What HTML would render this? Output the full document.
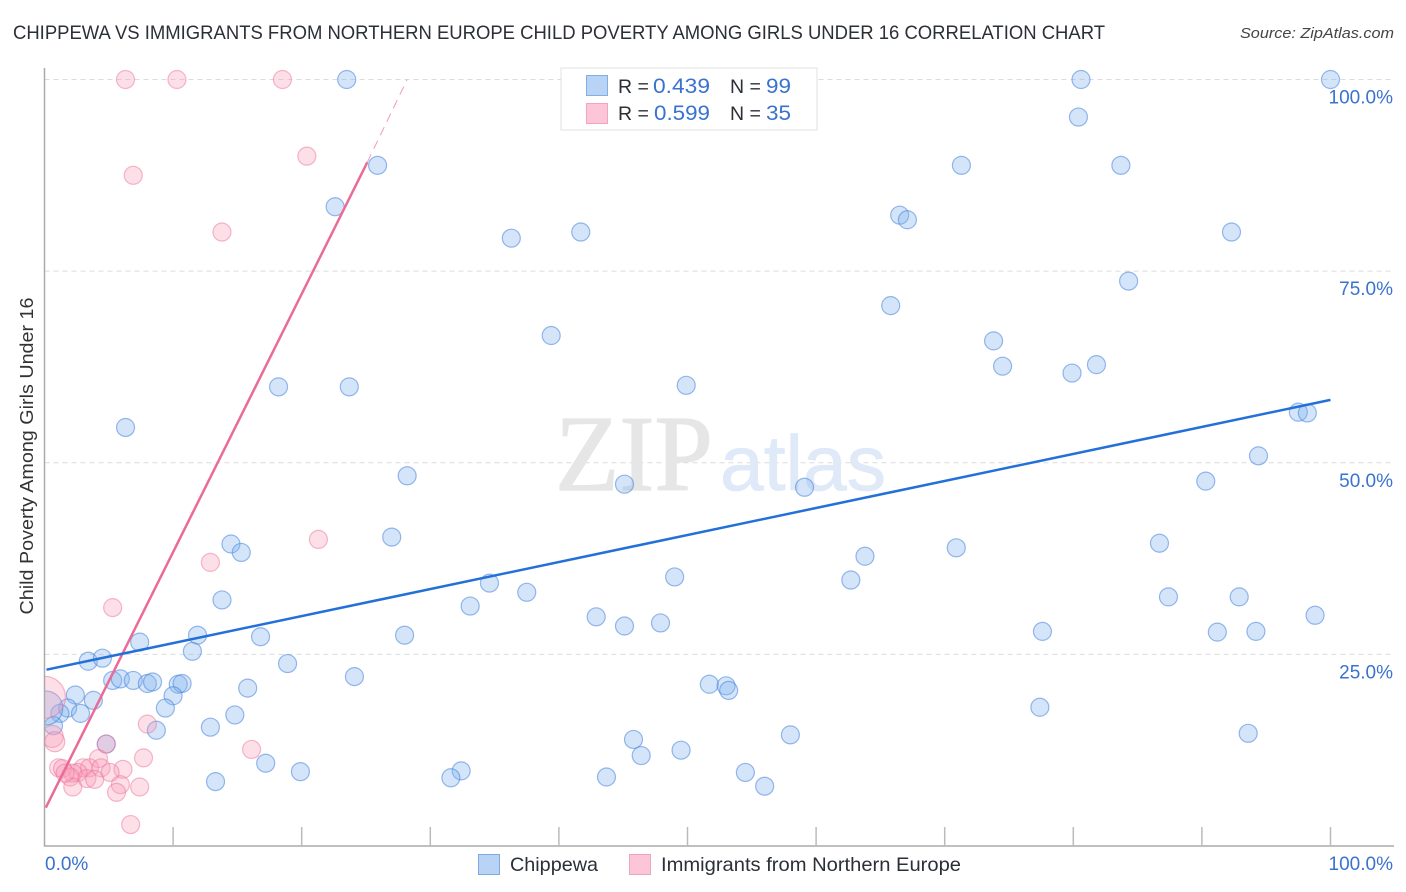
<!DOCTYPE html>
<html lang="en">
<head>
<meta charset="utf-8">
<title>Chippewa vs Immigrants from Northern Europe Child Poverty Correlation Chart</title>
<style>
html,body{margin:0;padding:0;background:#fff;width:1406px;height:892px;overflow:hidden}
svg{display:block;font-family:"Liberation Sans",sans-serif}
</style>
</head>
<body>
<svg id="chart" width="1406" height="892" viewBox="0 0 1406 892" xmlns="http://www.w3.org/2000/svg">
  <defs><clipPath id="plot-clip"><rect x="44.5" y="60" width="1350" height="786"/></clipPath></defs>
  <text x="13" y="39" font-size="19.5" fill="#2b2f36" textLength="1092" lengthAdjust="spacingAndGlyphs">CHIPPEWA VS IMMIGRANTS FROM NORTHERN EUROPE CHILD POVERTY AMONG GIRLS UNDER 16 CORRELATION CHART</text>
  <text x="1394" y="38" font-size="15" font-style="italic" fill="#444" text-anchor="end" textLength="154" lengthAdjust="spacingAndGlyphs">Source: ZipAtlas.com</text>

  <g id="grid-layer"></g>

  <g>
    <text x="555" y="490" font-family="'Liberation Serif',serif" font-size="108" fill="#e6e6e6" stroke="#e6e6e6" stroke-width="1.2" textLength="158" lengthAdjust="spacingAndGlyphs">ZIP</text>
    <text x="720" y="490" font-size="78" fill="#dfe9f8" stroke="#dfe9f8" stroke-width="0.8" textLength="166" lengthAdjust="spacingAndGlyphs">atlas</text>
  </g>

  <g id="points-layer" clip-path="url(#plot-clip)"></g>
  <g id="trend-layer"></g>
  <g id="axis-layer"></g>

  <text transform="translate(33,456) rotate(-90)" font-size="18" fill="#333" text-anchor="middle" textLength="317" lengthAdjust="spacingAndGlyphs">Child Poverty Among Girls Under 16</text>

  <g>
    <rect x="561" y="68" width="256" height="62" fill="#fff" stroke="#e2e2e2" stroke-width="1"/>
    <rect x="586.5" y="75.5" width="21" height="20" fill="#b8d3f6" stroke="#85aee0"/>
    <rect x="586.5" y="103.5" width="21" height="20" fill="#fcc6d8" stroke="#f2a5bf"/>
    <text x="618" y="93" font-size="19.5" fill="#2b2f36">R =</text>
    <text x="653" y="93" font-size="21" fill="#3a72cf" textLength="57" lengthAdjust="spacingAndGlyphs">0.439</text>
    <text x="730" y="93" font-size="19.5" fill="#2b2f36">N =</text>
    <text x="766" y="93" font-size="21" fill="#3a72cf" textLength="25" lengthAdjust="spacingAndGlyphs">99</text>
    <text x="618" y="120" font-size="19.5" fill="#2b2f36">R =</text>
    <text x="654" y="120" font-size="21" fill="#3a72cf" textLength="56" lengthAdjust="spacingAndGlyphs">0.599</text>
    <text x="730" y="120" font-size="19.5" fill="#2b2f36">N =</text>
    <text x="766" y="120" font-size="21" fill="#3a72cf" textLength="25" lengthAdjust="spacingAndGlyphs">35</text>
  </g>

  <g>
    <rect x="478.5" y="854.5" width="21" height="20" fill="#b8d3f6" stroke="#7faadf"/>
    <text x="510" y="871" font-size="19.5" fill="#2b2f36" textLength="88" lengthAdjust="spacingAndGlyphs">Chippewa</text>
    <rect x="629.5" y="854.5" width="21" height="20" fill="#fcc6d8" stroke="#f0a3bd"/>
    <text x="661" y="871" font-size="19.5" fill="#2b2f36" textLength="300" lengthAdjust="spacingAndGlyphs">Immigrants from Northern Europe</text>
  </g>
</svg>
<script>
// Data values are percentages.
const xTicks = [10, 20, 30, 40, 50, 60, 70, 80, 90, 100];
const yTicks = [25, 50, 75, 100];
const yTickLabels = ["25.0%", "50.0%", "75.0%", "100.0%"];
const xEndLabels = ["0.0%", "100.0%"];

const chippewaX = [23.5,80.6,100,80.4,25.9,71.3,83.7,22.6,66.5,67.1,36.3,41.7,92.3,84.3,65.8,39.4,73.8,74.5,79.9,81.8,49.9,18.2,23.7,6.3,97.5,98.2,94.4,28.2,45.1,59.1,90.3,27.0,14.5,15.3,70.9,86.7,63.8,62.7,49.0,34.6,13.8,37.5,33.1,87.4,92.9,98.8,42.9,45.1,47.9,28.0,11.9,16.8,7.4,77.6,91.2,94.2,11.5,3.4,4.5,18.9,5.3,5.9,6.9,8.0,8.4,10.4,10.7,24.1,51.7,53.0,53.2,15.8,2.4,10.0,3.8,9.4,77.4,1.8,1.2,2.8,14.8,0.7,8.7,12.9,0.1,45.8,46.4,49.5,58.0,93.6,4.8,17.2,19.9,32.4,31.6,54.5,43.7,56.0,13.3];
const chippewaY = [100,100,100,95.1,88.8,88.8,88.8,83.4,82.3,81.7,79.3,80.1,80.1,73.7,70.5,66.6,65.9,62.6,61.7,62.8,60.1,59.9,59.9,54.6,56.6,56.5,50.9,48.3,47.2,46.8,47.6,40.3,39.4,38.3,38.9,39.5,37.8,34.7,35.1,34.3,32.1,33.1,31.3,32.5,32.5,30.1,29.9,28.7,29.1,27.5,27.5,27.3,26.6,28.0,27.9,28.0,25.4,24.1,24.5,23.8,21.6,21.8,21.6,21.2,21.4,21.1,21.2,22.1,21.1,20.9,20.3,20.6,19.7,19.6,19.0,18.0,18.1,18.0,17.3,17.3,17.1,15.7,15.1,15.5,18.0,13.9,11.8,12.5,14.5,14.7,13.3,10.8,9.7,9.8,8.9,9.6,9.0,7.8,8.4];
const chippewaR = [9,9,9,9,9,9,9,9,9,9,9,9,9,9,9,9,9,9,9,9,9,9,9,9,9,9,9,9,9,9,9,9,9,9,9,9,9,9,9,9,9,9,9,9,9,9,9,9,9,9,9,9,9,9,9,9,9,9,9,9,9,9,9,9,9,9,9,9,9,9,9,9,9,9,9,9,9,9,9,9,9,9,9,9,17,9,9,9,9,9,9,9,9,9,9,9,9,9,9];

const immigrantsX = [6.3,10.3,18.5,20.4,6.9,13.8,21.3,12.9,5.3,8.0,0,0.6,0.8,4.8,16.1,7.7,4.2,1.1,1.4,3.0,3.5,4.4,6.1,5.1,2.6,2.2,2.0,3.3,3.9,2.2,5.9,5.6,7.4,6.7,1.6];
const immigrantsY = [100,100,100,90.0,87.5,80.1,40.0,37.0,31.1,15.9,19.4,14.3,13.6,13.3,12.6,11.5,11.4,10.2,10.1,10.2,10.2,10.2,10.0,9.6,9.6,9.5,9.0,8.8,8.7,7.7,8.0,7.0,7.7,2.8,9.5];
const immigrantsR = [9,9,9,9,9,9,9,9,9,9,21,11,10,9,9,9,9,9,9,9,9,9,9,9,9,9,9,9,9,9,9,9,9,9,9];

const chippewaTrendX = [0, 100];
const chippewaTrendY = [23.0, 58.2];
const immigrantsTrendX = [0.1, 25.1];
const immigrantsTrendY = [5.0, 89.2];
const immigrantsDashX = [25.1, 28.2];
const immigrantsDashY = [89.2, 100];

const NS = "http://www.w3.org/2000/svg";
const xScale = v => 44.5 + v * 12.86;
const yScale = v => 846 - v * 7.665;

function make(tag, attrs, parent) {
  const el = document.createElementNS(NS, tag);
  for (const k in attrs) el.setAttribute(k, attrs[k]);
  parent.appendChild(el);
  return el;
}

const grid = document.getElementById("grid-layer");
const axes = document.getElementById("axis-layer");
const pts = document.getElementById("points-layer");
const trends = document.getElementById("trend-layer");

yTicks.forEach((v, i) => {
  const line = make("line", {x1: 44.5, x2: 1394, y1: yScale(v), y2: yScale(v), stroke: "#dcdcdc", "stroke-width": 1, "stroke-dasharray": "5 4"}, grid);
  
  
  const label = make("text", {x: 1393, y: yScale(v) + 24, "font-size": 19, fill: "#3a72cf", "text-anchor": "end"}, axes);
  
  
  label.textContent = yTickLabels[i];
});

const yAxis = make("line", {x1: 44.5, x2: 44.5, y1: 68, y2: 846.5, stroke: "#aaa", "stroke-width": 1.5}, axes);


const xAxis = make("line", {x1: 44, x2: 1394, y1: 846, y2: 846, stroke: "#aaa", "stroke-width": 1.5}, axes);



xTicks.forEach(v => {
  const tick = make("line", {x1: xScale(v), x2: xScale(v), y1: 827, y2: 846, stroke: "#bbb", "stroke-width": 1.5}, axes);
  
  
});

const xLabelLeft = make("text", {x: 45, y: 870, "font-size": 19, fill: "#3a72cf"}, axes);


xLabelLeft.textContent = xEndLabels[0];
const xLabelRight = make("text", {x: 1393, y: 870, "font-size": 19, fill: "#3a72cf", "text-anchor": "end"}, axes);


xLabelRight.textContent = xEndLabels[1];

chippewaX.forEach((v, i) => {
  const c = make("circle", {cx: xScale(v), cy: yScale(chippewaY[i]), r: chippewaR[i], fill: "rgba(130,178,238,0.34)", stroke: "rgba(70,130,220,0.55)", "stroke-width": 1.2}, pts);
  
  
});

immigrantsX.forEach((v, i) => {
  const c = make("circle", {cx: xScale(v), cy: yScale(immigrantsY[i]), r: immigrantsR[i], fill: "rgba(250,155,185,0.32)", stroke: "rgba(235,115,155,0.5)", "stroke-width": 1.2}, pts);
  
  
});

const pinkDash = make("line", {x1: xScale(immigrantsDashX[0]), y1: yScale(immigrantsDashY[0]), x2: xScale(immigrantsDashX[1]), y2: yScale(immigrantsDashY[1]), stroke: "#ee9db7", "stroke-width": 1, "stroke-dasharray": "9 6"}, trends);


const pinkLine = make("line", {x1: xScale(immigrantsTrendX[0]), y1: yScale(immigrantsTrendY[0]), x2: xScale(immigrantsTrendX[1]), y2: yScale(immigrantsTrendY[1]), stroke: "#e96c96", "stroke-width": 2.5}, trends);


const blueLine = make("line", {x1: xScale(chippewaTrendX[0]) + 2, y1: yScale(chippewaTrendY[0]), x2: xScale(chippewaTrendX[1]), y2: yScale(chippewaTrendY[1]), stroke: "#2270d8", "stroke-width": 2.5}, trends);


</script>
</body>
</html>
